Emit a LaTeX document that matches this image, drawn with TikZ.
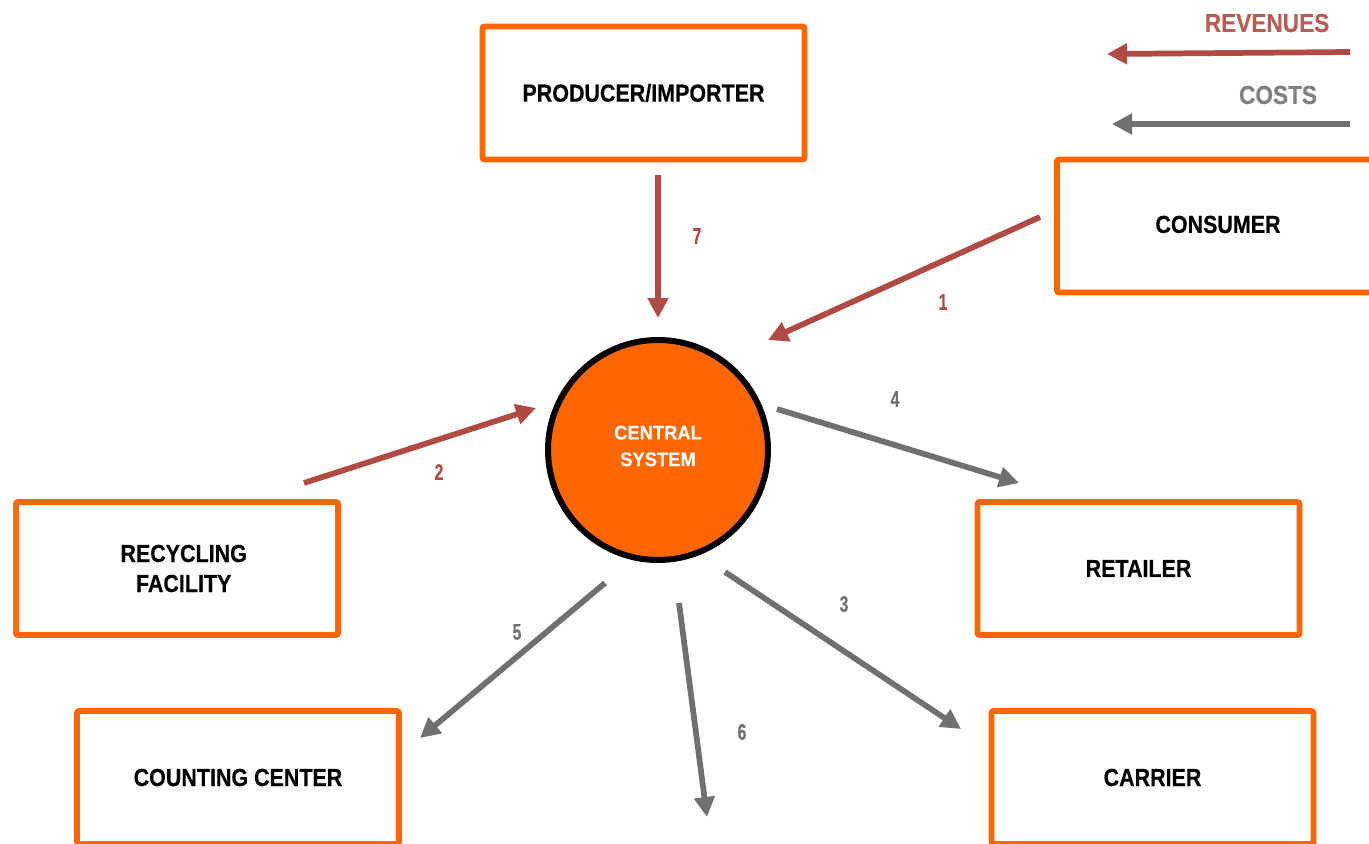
\documentclass[tikz,border=0pt]{standalone}
\usepackage{fontspec}
\setmainfont{Liberation Sans}
\newfontfamily\boxfont{Liberation Sans}[FakeStretch=0.87, BoldFeatures={FakeBold=0.35}]
\newfontfamily\hubfont{Liberation Sans}[FakeStretch=0.93, BoldFeatures={FakeBold=0.3}]
\newfontfamily\numfont{Liberation Sans}[FakeStretch=0.7, BoldFeatures={FakeBold=0.3}]
\usetikzlibrary{arrows.meta}
\definecolor{borange}{HTML}{FF6600}
\definecolor{revred}{HTML}{B04A42}
\definecolor{costgray}{HTML}{707070}
\definecolor{legendgray}{HTML}{808080}
\begin{document}
\begin{tikzpicture}[x=0.75pt,y=-0.75pt,
  entity/.style={draw=borange, line width=4.3pt, rounded corners=1.5pt,
    minimum width=241.5pt, minimum height=99.75pt, inner sep=0pt,
    font=\boxfont\bfseries\fontsize{18.5}{22.5}\selectfont, align=center},
  hub/.style={circle, draw=black, fill=borange, line width=4.5pt,
    minimum size=165pt, inner sep=0pt},
  hubtext/.style={text=white, inner sep=0pt,
    font=\hubfont\bfseries\fontsize{14.8}{20}\selectfont, align=center},
  flow/.style={line width=4.3pt, -{Triangle[length=15pt,width=15pt]}},
  revflow/.style={flow, draw=revred},
  costflow/.style={flow, draw=costgray},
  numlab/.style={font=\numfont\bfseries\fontsize{17}{20}\selectfont, inner sep=0pt},
  legendtext/.style={font=\boxfont\bfseries\fontsize{19.5}{22}\selectfont, inner sep=0pt}
]
\useasboundingbox (0,0) rectangle (1369,843);
\begin{scope}
\clip (0,0) rectangle (1369,843);
% entities
\node[entity] (prod) at (643.5,93) {PRODUCER/IMPORTER};
\node[entity] (cons) at (1218,226) {\raisebox{2.5pt}{CONSUMER}};
\node[entity] (recy) at (177,568.5) {\hspace*{10pt}RECYCLING\\\hspace*{10pt}FACILITY};
\node[entity] (reta) at (1138.5,568.5) {RETAILER};
\node[entity] (coun) at (238,777.5) {COUNTING CENTER};
\node[entity] (carr) at (1152.5,777.5) {CARRIER};
\node[hub] (cs) at (658,450) {};
\node[hubtext] (cstext) at (658,446) {CENTRAL\\SYSTEM};
\end{scope}
% connector end points
\coordinate (a7s) at (658,175);  \coordinate (a7e) at (658,318);
\coordinate (a1s) at (1040,217); \coordinate (a1e) at (768,340);
\coordinate (a2s) at (304,483);  \coordinate (a2e) at (536,408);
\coordinate (a4s) at (777,409);  \coordinate (a4e) at (1019,483);
\coordinate (a3s) at (725,572);  \coordinate (a3e) at (961,729);
\coordinate (a5s) at (605,583);  \coordinate (a5e) at (420,738);
\coordinate (a6s) at (679,603);  \coordinate (a6e) at (707,817);
% flows
\draw[revflow] (a7s) -- (a7e);
\draw[revflow] (a1s) -- (a1e);
\draw[revflow] (a2s) -- (a2e);
\draw[costflow] (a4s) -- (a4e);
\draw[costflow] (a3s) -- (a3e);
\draw[costflow] (a5s) -- (a5e);
\draw[costflow] (a6s) -- (a6e);
% labels
\node[numlab, text=revred] (l7) at (697,236) {7};
\node[numlab, text=revred] (l1) at (943,302) {1};
\node[numlab, text=revred] (l2) at (439,472) {2};
\node[numlab, text=costgray] (l4) at (895,399) {4};
\node[numlab, text=costgray] (l3) at (844,604) {3};
\node[numlab, text=costgray] (l5) at (517,632) {5};
\node[numlab, text=costgray] (l6) at (742,732) {6};
% legend
\node[legendtext, text=revred!90!white] (rev) at (1267,23) {REVENUES};
\node[legendtext, text=legendgray] (cost) at (1278,95) {COSTS};
\coordinate (revs) at (1350,52);  \coordinate (reve) at (1107,54);
\coordinate (costs) at (1350,124); \coordinate (coste) at (1112,124);
\draw[revflow] (revs) -- (reve);
\draw[costflow] (costs) -- (coste);
\end{tikzpicture}
\end{document}
